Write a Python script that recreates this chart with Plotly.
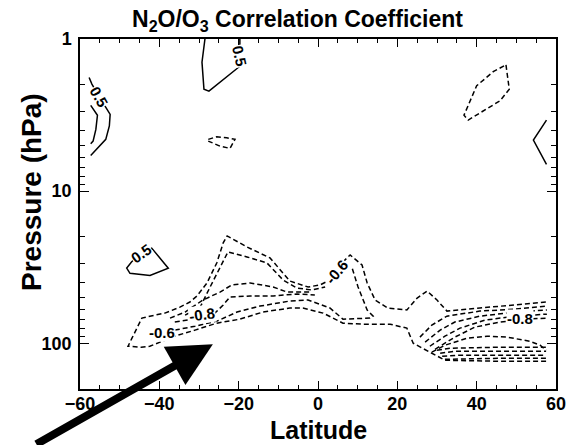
import math
import plotly.graph_objects as go

# ---------------- data (latitude in degrees, pressure in hPa) ----------------
# solid contours (+0.5)
pos_top_lat = [-28.5, -29.25, -28.75, -27.5, -19.7, -19.7]
pos_top_p = [1.0, 1.42, 2.14, 2.20, 1.51, 1.0]

pos_left_a_lat = [-57.7, -57.0, -55.2, -52.4, -52.6, -53.5, -57.3]
pos_left_a_p = [1.79, 1.98, 2.38, 3.13, 3.73, 4.57, 5.83]

pos_left_b_lat = [-57.3, -55.6, -56.0, -56.7, -57.3]
pos_left_b_p = [2.73, 3.17, 3.93, 4.69, 4.88]

pos_right_lat = [57.6, 54.3, 57.6]
pos_right_p = [3.41, 4.62, 6.68]

pos_mid_lat = [-44.6, -46.97, -48.23, -47.4, -42.35, -37.74, -41.93, -44.6]
pos_mid_p = [25.9, 29.1, 32.1, 34.7, 35.9, 32.1, 23.7, 25.9]

# dashed contours (negative)
neg_small_lat = [-27.66, -25.54, -23.02, -20.93, -22.19, -24.71, -27.66]
neg_small_p = [4.57, 4.39, 4.46, 4.57, 5.24, 5.06, 4.69]

neg_ne_lat = [47.39, 48.22, 45.87, 37.88, 36.80, 40.0, 44.18, 47.39]
neg_ne_p = [1.48, 2.14, 2.55, 3.41, 3.17, 2.03, 1.64, 1.48]

neg_l1_lat = [57.5, 45.9, 32.0, 27.5, 24.0, 22.4, 18.2, 11.3, 6.3, 1.3, -3.8, -7.1,
              -13.9, -19.7, -25.5, -31.0, -36.1, -39.8, -42.4, -44.6, -47.9, -46.9,
              -45.6, -44.4, -42.4, -38.6, -34.8, -32.3, -30.5, -28.0, -25.5, -23.9,
              -22.9, -17.9, -12.1, -9.6, -7.1, -2.5, 0.5, 3.0, 6.3, 8.1, 11.1, 12.4,
              14.4, 17.6, 22.4, 25.0, 27.5, 30.0, 32.5, 40.8, 49.7, 57.7]
neg_l1_p = [131.5, 131.5, 129.4, 111.2, 100.0, 79.6, 75.0, 75.0, 73.8, 63.4, 58.7, 58.7,
            62.4, 69.5, 73.8, 82.0, 89.9, 98.4, 104.7, 106.2, 104.7, 92.7,
            78.3, 68.4, 66.4, 63.4, 57.9, 53.6, 48.9, 40.2, 29.6, 21.9,
            19.7, 23.3, 27.5, 33.0, 39.0, 42.7, 41.4, 38.4, 29.2, 26.3, 30.6, 40.2,
            52.0, 58.7, 60.5, 50.5, 45.4, 52.0, 61.5, 58.7, 56.1, 53.6]

neg_l2_lat = [-33.5, -29.7, -27.2, -24.7, -22.7, -17.9, -12.9, -8.8, -5.3, -1.5, 1.8]
neg_l2_p = [65.3, 57.9, 42.7, 31.5, 25.1, 27.1, 29.6, 38.4, 43.4, 44.7, 42.7]

neg_l3_lat = [-37.3, -33.5, -29.0, -24.7, -21.7, -17.1, -11.3, -7.8, -2.0]
neg_l3_p = [68.4, 62.4, 52.0, 46.1, 41.4, 40.2, 42.7, 46.1, 46.1]

neg_l4_lat = [-36.1, -29.7, -26.0, -23.9, -22.2, -17.1, -11.3, -5.3, -0.8]
neg_l4_p = [72.6, 68.4, 63.4, 56.1, 49.7, 48.9, 48.9, 47.5, 48.2]

neg_l5_lat = [-36.1, -31.0, -25.5, -20.4, -14.6, -7.1, -2.5, 3.0, 6.3, 13.1, 13.9, 12.4, 10.1, 8.6]
neg_l5_p = [82.0, 77.3, 71.6, 62.4, 57.0, 52.8, 52.0, 58.7, 69.5, 68.4, 66.4, 60.5, 42.7, 32.0]

neg_r2_lat = [25.7, 28.7, 32.5, 40.8, 49.7, 57.7]
neg_r2_p = [91.2, 76.0, 66.4, 61.5, 59.7, 57.0]
neg_r3_lat = [27.0, 30.8, 34.5, 40.8, 49.7, 57.7]
neg_r3_p = [98.4, 82.0, 72.6, 66.4, 62.4, 60.5]
neg_r4_lat = [28.2, 32.0, 35.8, 42.1, 49.7, 57.7]
neg_r4_p = [104.7, 89.9, 79.6, 70.5, 66.4, 64.4]
neg_r5_lat = [29.5, 34.5, 39.6, 45.9, 52.2, 57.7]
neg_r5_p = [109.6, 91.2, 78.3, 72.6, 69.5, 68.4]

neg_e0_lat = [28.7, 32.0, 37.6, 42.6, 47.6, 53.4, 56.0, 57.5]
neg_e0_p = [114.6, 103.1, 92.7, 89.9, 91.2, 97.0, 103.1, 111.2]
neg_e1_lat = [30.0, 33.3, 45.9, 57.5]
neg_e1_p = [111.2, 107.9, 106.2, 106.2]
neg_e2_lat = [30.8, 34.5, 45.9, 57.5]
neg_e2_p = [116.4, 113.0, 113.0, 113.0]
neg_e3_lat = [31.3, 35.8, 45.9, 57.5]
neg_e3_p = [121.9, 120.0, 120.0, 120.0]
neg_e4_lat = [32.0, 45.9, 57.5]
neg_e4_p = [127.6, 125.6, 125.6]

# contour labels
label_text = ["0.5", "0.5", "0.5", "-0.6", "-0.8", "-0.6", "-0.8"]
label_lat = [-19.7, -55.2, -44.6, -39.3, -29.2, 4.8, 50.9]
label_p = [1.3, 2.38, 25.9, 84.5, 64.4, 34.0, 68.4]
label_angle = [78, 60, -35, 0, -8, -50, 0]

# arrow target
arrow_lat = -26.5
arrow_p = 101.5

x_ticks = [-60, -40, -20, 0, 20, 40, 60]
y_ticks = [1, 10, 100]
y_ticklabels = ["1", "10", "100"]

# ---------------- figure ----------------
FONT = "Liberation Sans"
fig = go.Figure()

solid = [(pos_top_lat, pos_top_p), (pos_left_a_lat, pos_left_a_p), (pos_left_b_lat, pos_left_b_p),
         (pos_right_lat, pos_right_p), (pos_mid_lat, pos_mid_p)]
dashed = [(neg_small_lat, neg_small_p), (neg_ne_lat, neg_ne_p), (neg_l1_lat, neg_l1_p),
          (neg_l2_lat, neg_l2_p), (neg_l3_lat, neg_l3_p), (neg_l4_lat, neg_l4_p),
          (neg_l5_lat, neg_l5_p), (neg_r2_lat, neg_r2_p), (neg_r3_lat, neg_r3_p),
          (neg_r4_lat, neg_r4_p), (neg_r5_lat, neg_r5_p), (neg_e0_lat, neg_e0_p),
          (neg_e1_lat, neg_e1_p), (neg_e2_lat, neg_e2_p), (neg_e3_lat, neg_e3_p),
          (neg_e4_lat, neg_e4_p)]

for la, pp in solid:
    fig.add_trace(go.Scatter(x=la, y=pp, mode="lines", showlegend=False, hoverinfo="skip",
                             line=dict(color="black", width=1.5)))
for la, pp in dashed:
    fig.add_trace(go.Scatter(x=la, y=pp, mode="lines", showlegend=False, hoverinfo="skip",
                             line=dict(color="black", width=1.5, dash="5px,3px")))

for t, la, pp, ang in zip(label_text, label_lat, label_p, label_angle):
    fig.add_annotation(x=la, y=math.log10(pp), text=t, showarrow=False, textangle=ang,
                       font=dict(family=FONT, size=15, color="black", weight="bold"),
                       bgcolor="white", borderpad=0)

fig.add_annotation(x=arrow_lat, y=math.log10(arrow_p), text="", showarrow=True,
                   arrowhead=2, arrowwidth=8, arrowsize=1.1, arrowcolor="black",
                   ax=-178, ay=111, standoff=0)

# titles
fig.add_annotation(xref="paper", yref="paper", x=(297 - 80) / 476, y=(389 - 20) / 350,
                   xanchor="center", yanchor="middle",
                   text="N<sub>2</sub>O/O<sub>3</sub> Correlation Coefficient", showarrow=False,
                   font=dict(family=FONT, size=23, color="black", weight="bold"))
fig.add_annotation(xref="paper", yref="paper", x=0.5, y=(389 - 430) / 350,
                   xanchor="center", yanchor="middle", borderpad=0,
                   text="Latitude", showarrow=False,
                   font=dict(family=FONT, size=25, color="black", weight="bold"))
fig.add_annotation(xref="paper", yref="paper", x=(31 - 80) / 476, y=(389 - 192) / 350,
                   xanchor="center", yanchor="middle",
                   text="Pressure (hPa)", showarrow=False, textangle=-90,
                   font=dict(family=FONT, size=28, color="black", weight="bold"))

fig.update_xaxes(range=[-60, 60], tickvals=x_ticks, ticks="inside", ticklen=8, tickwidth=1.3,
                 tickcolor="black", minor=dict(ticks="inside", ticklen=4, dtick=5, tick0=0,
                                               tickwidth=1.1, tickcolor="black"),
                 showline=True, linewidth=1.5, linecolor="black", mirror="ticks",
                 showgrid=False, zeroline=False, automargin=False, ticklabelstandoff=-2,
                 tickfont=dict(family=FONT, size=18, color="black", weight="bold"))
fig.update_yaxes(type="log", range=[math.log10(200), 0], tickvals=y_ticks, ticktext=y_ticklabels,
                 ticks="inside", ticklen=9, tickwidth=1.3, tickcolor="black",
                 minor=dict(ticks="inside", ticklen=5, tickwidth=1.1, tickcolor="black",
                            tickvals=[2, 3, 4, 5, 6, 7, 8, 9, 20, 30, 40, 50, 60, 70, 80, 90]),
                 showline=True, linewidth=1.5, linecolor="black", mirror="ticks",
                 showgrid=False, zeroline=False, automargin=False, ticklabelstandoff=3,
                 tickfont=dict(family=FONT, size=18, color="black", weight="bold"))

fig.update_layout(width=567, height=445, margin=dict(l=80, r=11, t=39, b=56),
                  plot_bgcolor="white", paper_bgcolor="white", showlegend=False)

fig.write_html("out.html")
